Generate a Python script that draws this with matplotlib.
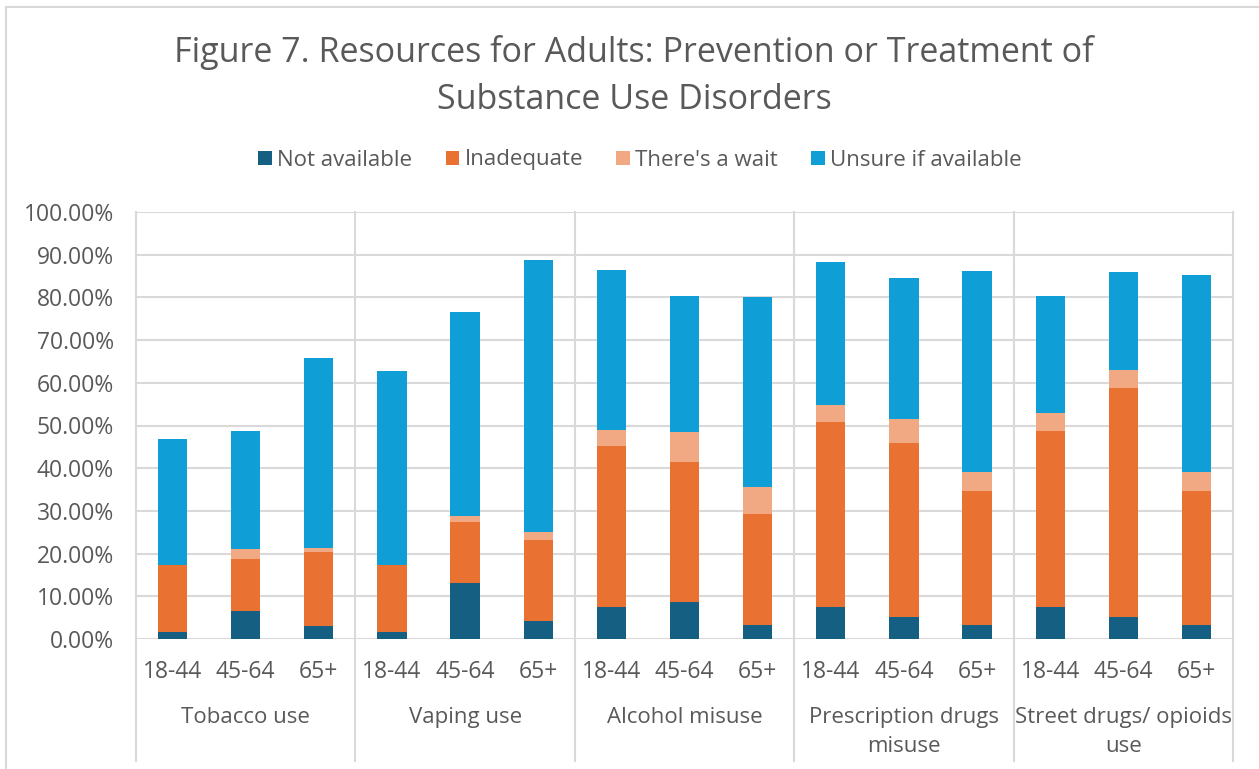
import matplotlib
matplotlib.use("Agg")
import matplotlib.pyplot as plt
from matplotlib.patches import Rectangle
from matplotlib.transforms import blended_transform_factory
from matplotlib.ticker import PercentFormatter
import numpy as np

plt.rcParams['font.family'] = ['Open Sans', 'DejaVu Sans']

groups = ["Tobacco use", "Vaping use", "Alcohol misuse",
          "Prescription drugs\nmisuse", "Street drugs/ opioids\nuse"]
ages = ["18-44", "45-64", "65+"]
series_names = ["Not available", "Inadequate", "There's a wait", "Unsure if available"]

# percent of respondents, ordered group by group, age by age
not_available = [1.7, 6.5, 3.1,  1.7, 13.1, 4.1,  7.6, 8.6, 3.3,  7.6, 5.2, 3.3,  7.6, 5.2, 3.3]
inadequate    = [15.7, 12.3, 17.2, 15.7, 14.4, 19.1, 37.5, 32.9, 26.0, 43.3, 40.8, 31.4, 41.2, 53.5, 31.4]
wait          = [0.0, 2.2, 1.0,  0.0, 1.3, 1.8,  3.9, 6.9, 6.4,  4.0, 5.6, 4.3,  4.1, 4.3, 4.3]
unsure        = [29.5, 27.7, 44.4, 45.3, 47.8, 63.7, 37.3, 31.9, 44.3, 33.4, 33.0, 47.2, 27.5, 22.9, 46.2]

colors = ["#156082", "#E97132", "#F1A983", "#0F9ED5"]
text_color = "#595959"
grid_color = "#D9D9D9"
label_size = 16.5

W, H = 1259, 769
fig = plt.figure(figsize=(W / 100, H / 100), dpi=100)

# chart-area border (open at right and bottom edges)
fig.patches.append(Rectangle((6 / W, -0.05), 1.1, 1 - 7 / H + 0.05,
                             transform=fig.transFigure, fill=False,
                             edgecolor=grid_color, linewidth=1.5))

left, right, top, bottom = 136, 1233, 212, 639
ax = fig.add_axes([left / W, 1 - bottom / H, (right - left) / W, (bottom - top) / H])

n = len(groups) * len(ages)
x = np.arange(n)
data = [not_available, inadequate, wait, unsure]
base = np.zeros(n)
handles = []
for vals, c, name in zip(data, colors, series_names):
    v = np.array(vals, dtype=float)
    h = ax.bar(x, v, width=0.4, bottom=base, color=c, label=name, zorder=3)
    handles.append(h)
    base += v

ax.set_xlim(-0.5, n - 0.5)
ax.set_ylim(0, 100)
ax.set_yticks(np.arange(0, 101, 10))
ax.yaxis.set_major_formatter(PercentFormatter(decimals=2))
ax.grid(axis='y', color=grid_color, linewidth=1.5, zorder=0)
for s in ax.spines.values():
    s.set_visible(False)

ax.set_xticks(x)
ax.set_xticklabels(ages * len(groups))
ax.tick_params(axis='both', length=0, labelsize=label_size, labelcolor=text_color)
ax.tick_params(axis='x', pad=15)
ax.tick_params(axis='y', pad=16)

# category dividers spanning the plot and the label rows
ext = (761 - bottom) / (bottom - top)
for b in np.arange(-0.5, n, len(ages)):
    ax.axvline(b, ymin=-ext, ymax=1, color=grid_color, linewidth=1.5,
               clip_on=False, zorder=1)

trans = blended_transform_factory(ax.transData, ax.transAxes)
label_top = -(707 - bottom) / (bottom - top)
for i, g in enumerate(groups):
    ax.text(i * len(ages) + 1, label_top, g, transform=trans, ha='center',
            va='top', fontsize=16, color=text_color, linespacing=1.5)

fig.text(634 / W, 1 - 76 / H,
         "Figure 7. Resources for Adults: Prevention or Treatment of\nSubstance Use Disorders",
         ha='center', va='center', fontsize=24.5, color=text_color, linespacing=1.5)

leg = fig.legend(handles=handles, loc='center', bbox_to_anchor=(640 / W, 1 - 160 / H),
                 ncol=4, frameon=False, fontsize=16, handlelength=0.6,
                 handleheight=0.6, handletextpad=0.25, columnspacing=1.5,
                 labelcolor=text_color)

fig.savefig("out.png", dpi=100)
